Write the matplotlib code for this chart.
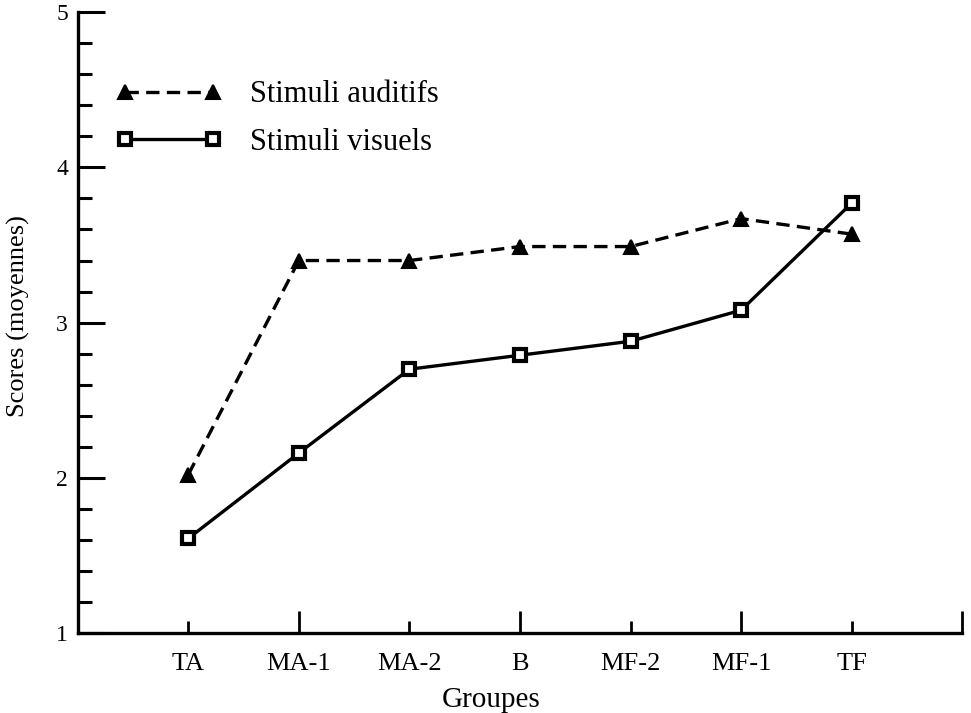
import matplotlib.pyplot as plt
from matplotlib.ticker import MultipleLocator

plt.rcParams['font.family'] = ['Liberation Serif', 'DejaVu Serif']

groupes = ["TA", "MA-1", "MA-2", "B", "MF-2", "MF-1", "TF"]
auditifs = [2.02, 3.40, 3.40, 3.49, 3.49, 3.67, 3.57]
visuels = [1.61, 2.16, 2.70, 2.79, 2.88, 3.08, 3.77]

x = list(range(1, len(groupes) + 1))

fig = plt.figure(figsize=(9.71, 7.13), dpi=100)
ax = fig.add_axes([0.080, 0.112, 0.911, 0.871])

# dashed line, triangles (auditory stimuli)
ax.plot(x, auditifs, ls=(0, (4, 2.2)), lw=2.4, color='black',
        marker='^', ms=10, mfc='black', mec='black', mew=1.5,
        label="Stimuli auditifs")
# solid line, squares (visual stimuli)
ax.plot(x, visuels, ls='-', lw=2.4, color='black',
        marker='s', ms=9, mfc='white', mec='black', mew=3,
        label="Stimuli visuels")

ax.set_xlim(0, 8)
ax.set_ylim(1, 5)

for s in ["top", "right"]:
    ax.spines[s].set_visible(False)
for s in ["left", "bottom"]:
    ax.spines[s].set_linewidth(2.4)

# x ticks: labelled groups plus the end tick at 8
ax.set_xticks(x + [8])
ax.set_xticklabels(groupes + [""], fontsize=19)
ax.tick_params(axis='x', direction='in', width=2, pad=14)
for i, t in enumerate(ax.xaxis.get_major_ticks()):
    t.tick1line.set_markersize(16 if i % 2 == 1 else 8.5)

ax.yaxis.set_major_locator(MultipleLocator(1))
ax.yaxis.set_minor_locator(MultipleLocator(0.2))
ax.tick_params(axis='y', which='major', direction='in', length=19.5, width=2.2,
               labelsize=17, pad=7)
ax.tick_params(axis='y', which='minor', direction='in', length=10, width=2.2)

ax.set_xlabel("Groupes", fontsize=21)
ax.xaxis.set_label_coords(0.467, -0.086)
ax.set_ylabel("Scores (moyennes)", fontsize=19)
ax.yaxis.set_label_coords(-0.054, 0.51)

ax.legend(loc='upper left', bbox_to_anchor=(0.029, 0.91), frameon=False,
          borderaxespad=0, fontsize=22, handlelength=3.5, numpoints=2,
          labelspacing=0.6, handletextpad=0.9)

fig.savefig("out.png", dpi=100)
